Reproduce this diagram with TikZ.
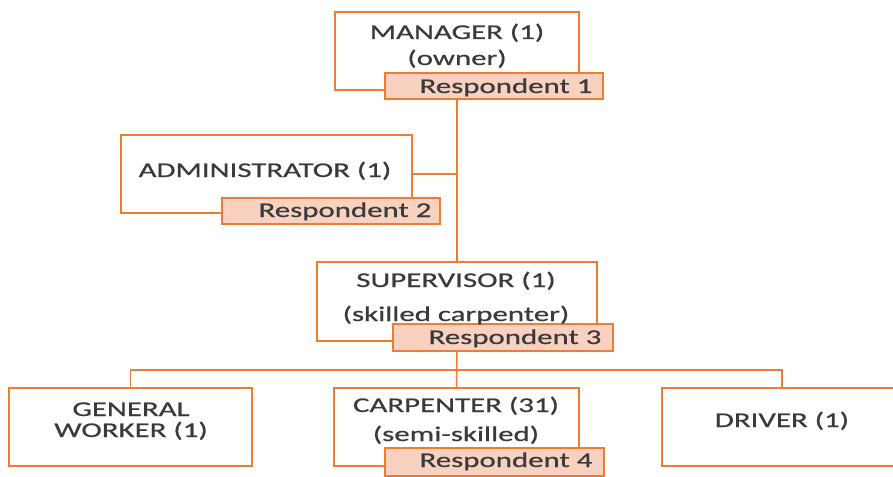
\documentclass[tikz,border=0pt]{standalone}
\usepackage{fontspec}
\setmainfont{Carlito}[FakeStretch=1.47,FakeBold=0.6]
\usetikzlibrary{backgrounds}
\definecolor{org}{HTML}{ED7D31}
\definecolor{respfill}{HTML}{F9D1C1}
\definecolor{txtgray}{HTML}{3A3A3A}
\begin{document}
\begin{tikzpicture}[x=1pt,y=-1pt,
  box/.style={draw=org, line width=1.5pt, fill=white, inner sep=0pt},
  resp/.style={draw=org, line width=1.5pt, fill=respfill, inner sep=0pt, minimum height=26pt},
  conn/.style={draw=org, line width=1.5pt},
  lbl/.style={text=txtgray, font=\fontsize{21}{25}\selectfont, inner sep=0pt, anchor=base}]
\useasboundingbox (0,0) rectangle (893,476);
\clip (0,0) rectangle (893,476);
% boxes
\node[box, minimum width=244pt, minimum height=78pt] (mgr) at (457,51) {};
\node[resp, minimum width=218pt] (r1) at (494,86) {};
\node[box, minimum width=291pt, minimum height=78pt] (adm) at (266.5,174) {};
\node[resp, minimum width=218pt] (r2) at (331,211) {};
\node[box, minimum width=280pt, minimum height=79pt] (sup) at (457,301.5) {};
\node[resp, minimum width=220pt, minimum height=27pt] (r3) at (503,337.5) {};
\node[box, minimum width=243pt, minimum height=78pt] (gw) at (130.5,427) {};
\node[box, minimum width=245pt, minimum height=78pt] (car) at (456.5,427) {};
\node[resp, minimum width=219pt, minimum height=28pt] (r4) at (494.5,462) {};
\node[box, minimum width=240pt, minimum height=78pt] (drv) at (782,427) {};
% connectors
\begin{scope}[on background layer]
\draw[conn] (mgr.south) -- (sup.north);
\draw[conn] (adm.east) -- (adm.east -| mgr.south);
\draw[conn] (sup.south) -- (car.north);
\coordinate (bus) at (457,370);
\draw[conn] (gw.north) |- (bus) -| (drv.north);
\end{scope}
% labels
\node[lbl] (t1a) at (457,39) {MANAGER (1)};
\node[lbl] (t1b) at (457,65) {(owner)};
\node[lbl] (t1r) at (506,93) {Respondent 1};
\node[lbl] (t2a) at (265,177) {ADMINISTRATOR (1)};
\node[lbl] (t2r) at (345,217) {Respondent 2};
\node[lbl] (t3a) at (456,287) {SUPERVISOR (1)};
\node[lbl] (t3b) at (456,321) {(skilled carpenter)};
\node[lbl] (t3r) at (515,344) {Respondent 3};
\node[lbl] (t4a) at (131,416) {GENERAL};
\node[lbl] (t4b) at (131,437) {WORKER (1)};
\node[lbl] (t5a) at (456,412) {CARPENTER (31)};
\node[lbl] (t5b) at (456,441) {(semi-skilled)};
\node[lbl] (t5r) at (506,467) {Respondent 4};
\node[lbl] (t6a) at (782,427) {DRIVER (1)};
\end{tikzpicture}
\end{document}
